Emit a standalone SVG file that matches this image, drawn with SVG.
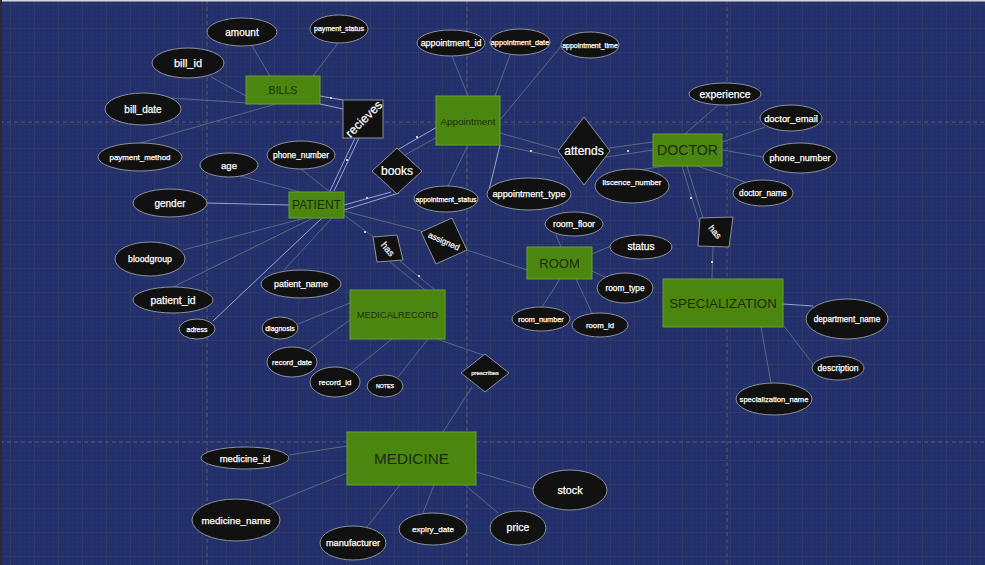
<svg xmlns="http://www.w3.org/2000/svg" width="985" height="565" viewBox="0 0 985 565">
<style>
.ent{fill:#4b870e;stroke:#67a032;stroke-width:1}
.et{fill:#1d2a12;font-family:"Liberation Sans",Arial,sans-serif;text-anchor:middle;dominant-baseline:central}
.rel{fill:#111;stroke:#8c929c;stroke-width:1}
.rt{fill:#fff;stroke:#fff;stroke-width:0.2;font-family:"Liberation Sans",Arial,sans-serif;text-anchor:middle;dominant-baseline:central}
.att{fill:#111;stroke:#8c929c;stroke-width:1}
.at{fill:#fff;stroke:#fff;stroke-width:0.25;font-family:"Liberation Sans",Arial,sans-serif;text-anchor:middle;dominant-baseline:central}
.la{stroke:#586a80;stroke-width:1;fill:none}
.lr{stroke:#9aa7cf;stroke-width:1;fill:none}
.dot{fill:#c8ccd8}
.dash{stroke:#555a70;stroke-width:1;stroke-dasharray:4 3}
</style>
<defs>
<pattern id="minor" width="4.8" height="4.8" patternUnits="userSpaceOnUse" x="0.4" y="4"><path d="M0 0H4.8M0 0V4.8" fill="none" stroke="#2b3874" stroke-width="0.6"/></pattern>
<pattern id="major" width="24" height="24" patternUnits="userSpaceOnUse" x="10" y="4"><path d="M0 0H24M0 0V24" fill="none" stroke="#3c4264" stroke-width="1"/></pattern>
</defs>
<g id="background">
<rect width="985" height="565" fill="#222f6b"/>
<rect width="985" height="565" fill="url(#minor)"/>
<rect width="985" height="565" fill="url(#major)"/>
<line class="dash" x1="207" y1="0" x2="207" y2="565"/>
<line class="dash" x1="467" y1="0" x2="467" y2="565"/>
<line class="dash" x1="727" y1="0" x2="727" y2="565"/>
<line class="dash" x1="0" y1="122" x2="985" y2="122"/>
<line class="dash" x1="0" y1="442" x2="985" y2="442"/>
<rect x="0" y="0" width="985" height="1.5" fill="#d8d8dc"/>
<rect x="0" y="0" width="2" height="565" fill="#2a2a30"/>
</g>
<g id="connectors">
<line class="la" x1="252" y1="46" x2="270" y2="76"/>
<line class="la" x1="338" y1="43" x2="313" y2="76"/>
<line class="la" x1="211" y1="77" x2="246" y2="96"/>
<line class="la" x1="172" y1="98" x2="262" y2="104"/>
<line class="la" x1="140" y1="143" x2="276" y2="104"/>
<line class="la" x1="452" y1="56" x2="468" y2="96"/>
<line class="la" x1="510" y1="55" x2="495" y2="96"/>
<line class="la" x1="562" y1="45" x2="500" y2="120"/>
<line class="la" x1="448" y1="186" x2="468" y2="145"/>
<line class="lr" x1="489" y1="190" x2="500" y2="145"/>
<line class="la" x1="718" y1="105" x2="685" y2="134"/>
<line class="la" x1="765" y1="127" x2="722" y2="142"/>
<line class="la" x1="763" y1="157" x2="722" y2="150"/>
<line class="la" x1="745" y1="182" x2="697" y2="166"/>
<line class="la" x1="664" y1="166" x2="640" y2="170"/>
<line class="la" x1="301" y1="169" x2="330" y2="192"/>
<line class="la" x1="240" y1="176" x2="300" y2="192"/>
<line class="lr" x1="207" y1="203" x2="289" y2="205"/>
<line class="la" x1="183" y1="250" x2="305" y2="218"/>
<line class="la" x1="173" y1="287" x2="313" y2="218"/>
<line class="lr" x1="213" y1="321" x2="322" y2="218"/>
<line class="la" x1="284" y1="270" x2="332" y2="218"/>
<line class="la" x1="556" y1="235" x2="561" y2="247"/>
<line class="la" x1="611" y1="246" x2="592" y2="254"/>
<line class="la" x1="607" y1="278" x2="592" y2="271"/>
<line class="la" x1="542" y1="307" x2="560" y2="279"/>
<line class="la" x1="592" y1="313" x2="576" y2="279"/>
<line class="lr" x1="783" y1="304" x2="813" y2="306"/>
<line class="la" x1="813" y1="364" x2="784" y2="326"/>
<line class="la" x1="771" y1="383" x2="761" y2="327"/>
<line class="la" x1="298" y1="324" x2="350" y2="303"/>
<line class="la" x1="308" y1="350" x2="350" y2="320"/>
<line class="la" x1="352" y1="371" x2="392" y2="339"/>
<line class="la" x1="398" y1="377" x2="428" y2="339"/>
<line class="la" x1="289" y1="455" x2="347" y2="446"/>
<line class="la" x1="268" y1="505" x2="347" y2="473"/>
<line class="la" x1="367" y1="527" x2="400" y2="485"/>
<line class="la" x1="423" y1="513" x2="434" y2="485"/>
<line class="la" x1="498" y1="513" x2="465" y2="485"/>
<line class="la" x1="534" y1="489" x2="476" y2="472"/>
<line class="lr" x1="320" y1="96" x2="343" y2="100"/>
<line class="lr" x1="320" y1="104" x2="343" y2="109"/>
<line class="lr" x1="330" y1="191" x2="355" y2="138"/>
<line class="lr" x1="334" y1="191" x2="359" y2="138"/>
<line class="lr" x1="437" y1="127" x2="399" y2="149"/>
<line class="la" x1="448" y1="131" x2="405" y2="155"/>
<line class="lr" x1="344" y1="205" x2="391" y2="192"/>
<line class="lr" x1="344" y1="210" x2="399" y2="193"/>
<line class="la" x1="500" y1="133" x2="560" y2="150"/>
<line class="la" x1="500" y1="145" x2="560" y2="158"/>
<line class="la" x1="609" y1="148" x2="653" y2="142"/>
<line class="la" x1="606" y1="157" x2="653" y2="150"/>
<line class="la" x1="344" y1="215" x2="375" y2="238"/>
<line class="la" x1="344" y1="211" x2="421" y2="231"/>
<line class="la" x1="390" y1="262" x2="425" y2="290"/>
<line class="la" x1="400" y1="261" x2="435" y2="290"/>
<line class="la" x1="467" y1="250" x2="527" y2="270"/>
<line class="la" x1="682" y1="166" x2="699" y2="222"/>
<line class="la" x1="687" y1="166" x2="703" y2="218"/>
<line class="la" x1="713" y1="247" x2="712" y2="279"/>
<line class="la" x1="437" y1="339" x2="483" y2="355"/>
<line class="la" x1="472" y1="387" x2="443" y2="432"/>
<rect class="dot" x="330" y="97" width="2" height="2"/>
<rect class="dot" x="346" y="159" width="2" height="2"/>
<rect class="dot" x="416" y="136" width="2" height="2"/>
<rect class="dot" x="366" y="197" width="2" height="2"/>
<rect class="dot" x="530" y="150" width="2" height="2"/>
<rect class="dot" x="627" y="150" width="2" height="2"/>
<rect class="dot" x="364" y="231" width="2" height="2" fill="#d66"/>
<rect class="dot" x="418" y="275" width="2" height="2"/>
<rect class="dot" x="690" y="197" width="2" height="2"/>
<rect class="dot" x="711" y="261" width="2" height="2"/>
</g>
<g id="BILLS"><rect class="ent" x="246" y="76" width="74" height="28"/><text class="et" x="283" y="90" font-size="10.6">BILLS</text></g>
<g id="Appointment"><rect class="ent" x="436" y="96" width="64" height="49"/><text class="et" x="468" y="121" font-size="9.8">Appointment</text></g>
<g id="DOCTOR"><rect class="ent" x="653" y="134" width="69" height="32"/><text class="et" x="687.5" y="150" font-size="14.2">DOCTOR</text></g>
<g id="PATIENT"><rect class="ent" x="289" y="192" width="55" height="26"/><text class="et" x="316.5" y="205" font-size="12">PATIENT</text></g>
<g id="ROOM"><rect class="ent" x="527" y="247" width="65" height="32"/><text class="et" x="559.5" y="263" font-size="13">ROOM</text></g>
<g id="SPECIALIZATION"><rect class="ent" x="663" y="279" width="120" height="48"/><text class="et" x="723" y="303" font-size="13.3">SPECIALIZATION</text></g>
<g id="MEDICALRECORD"><rect class="ent" x="350" y="290" width="95" height="49"/><text class="et" x="397.5" y="315" font-size="9.3">MEDICALRECORD</text></g>
<g id="MEDICINE"><rect class="ent" x="347" y="432" width="129" height="53"/><text class="et" x="411.5" y="458" font-size="15.3">MEDICINE</text></g>
<g id="recieves"><rect class="rel" x="343" y="100" width="40" height="38"/><text class="rt" x="364" y="119" font-size="12.4" transform="rotate(-45 364 119)">recieves</text></g>
<g id="books"><polygon class="rel" points="397,148 422,171 397,194 372,171"/><text class="rt" x="397" y="171" font-size="12">books</text></g>
<g id="attends"><polygon class="rel" points="584,117 610,151 584,185 558,151"/><text class="rt" x="584" y="151" font-size="12">attends</text></g>
<g id="has_patient_record"><polygon class="rel" points="373,237 397,235 403,260 377,262"/><text class="rt" x="388" y="249" font-size="9.5" transform="rotate(50 388 249)">has</text></g>
<g id="assigned"><polygon class="rel" points="452,218 467,250 436,264 421,232"/><text class="rt" x="444" y="241" font-size="8.4" transform="rotate(24 444 241)">assigned</text></g>
<g id="has_doctor_specialization"><polygon class="rel" points="700,218 733,217 729,247 698,246"/><text class="rt" x="715" y="232" font-size="9" transform="rotate(50 715 232)">has</text></g>
<g id="prescribes"><polygon class="rel" points="485,354 509,373 485,392 461,373"/><text class="rt" x="485" y="373" font-size="6">prescribes</text></g>
<g id="amount"><ellipse class="att" cx="242" cy="32" rx="35" ry="14"/><text class="at" x="242" y="32" font-size="10">amount</text></g>
<g id="payment_status"><ellipse class="att" cx="339" cy="29" rx="29" ry="14"/><text class="at" x="339" y="29" font-size="7.1">payment_status</text></g>
<g id="bill_id"><ellipse class="att" cx="188" cy="63" rx="36" ry="15"/><text class="at" x="188" y="63" font-size="11">bill_id</text></g>
<g id="bill_date"><ellipse class="att" cx="143" cy="109" rx="38" ry="16"/><text class="at" x="143" y="109" font-size="10">bill_date</text></g>
<g id="payment_method"><ellipse class="att" cx="140" cy="157" rx="42" ry="14"/><text class="at" x="140" y="157" font-size="7.9">payment_method</text></g>
<g id="appointment_id"><ellipse class="att" cx="451" cy="43" rx="34" ry="13"/><text class="at" x="451" y="43" font-size="8.9">appointment_id</text></g>
<g id="appointment_date"><ellipse class="att" cx="520" cy="42" rx="30" ry="13"/><text class="at" x="520" y="42" font-size="7.3">appointment_date</text></g>
<g id="appointment_time"><ellipse class="att" cx="590" cy="45" rx="29" ry="13"/><text class="at" x="590" y="45" font-size="7">appointment_time</text></g>
<g id="appointment_status"><ellipse class="att" cx="446" cy="199" rx="32" ry="13"/><text class="at" x="446" y="199" font-size="7">appointment_status</text></g>
<g id="appointment_type"><ellipse class="att" cx="529" cy="194" rx="42" ry="16"/><text class="at" x="529" y="194" font-size="9.2">appointment_type</text></g>
<g id="experience"><ellipse class="att" cx="725" cy="94" rx="36" ry="11"/><text class="at" x="725" y="94" font-size="10.4">experience</text></g>
<g id="doctor_email"><ellipse class="att" cx="791" cy="118" rx="31" ry="13"/><text class="at" x="791" y="118" font-size="9.4">doctor_email</text></g>
<g id="doctor_phone_number"><ellipse class="att" cx="800" cy="158" rx="37" ry="15"/><text class="at" x="800" y="158" font-size="9.1">phone_number</text></g>
<g id="doctor_name"><ellipse class="att" cx="763" cy="193" rx="30" ry="13"/><text class="at" x="763" y="193" font-size="8.2">doctor_name</text></g>
<g id="liscence_number"><ellipse class="att" cx="632" cy="186" rx="37" ry="17"/><text class="at" x="632" y="182" font-size="7.8">liscence_number</text></g>
<g id="patient_phone_number"><ellipse class="att" cx="301" cy="155" rx="34" ry="14"/><text class="at" x="301" y="155" font-size="8.3">phone_number</text></g>
<g id="age"><ellipse class="att" cx="229" cy="165" rx="29" ry="12"/><text class="at" x="229" y="165" font-size="9.6">age</text></g>
<g id="gender"><ellipse class="att" cx="170" cy="203" rx="37" ry="14"/><text class="at" x="170" y="203" font-size="10">gender</text></g>
<g id="bloodgroup"><ellipse class="att" cx="150" cy="259" rx="35" ry="17"/><text class="at" x="150" y="259" font-size="8.8">bloodgroup</text></g>
<g id="patient_id"><ellipse class="att" cx="173" cy="300" rx="40" ry="13"/><text class="at" x="173" y="300" font-size="10.4">patient_id</text></g>
<g id="adress"><ellipse class="att" cx="197" cy="329" rx="18" ry="10"/><text class="at" x="197" y="329" font-size="7">adress</text></g>
<g id="patient_name"><ellipse class="att" cx="301" cy="284" rx="40" ry="14"/><text class="at" x="301" y="284" font-size="8.9">patient_name</text></g>
<g id="room_floor"><ellipse class="att" cx="574" cy="224" rx="29" ry="12"/><text class="at" x="574" y="224" font-size="8.8">room_floor</text></g>
<g id="status"><ellipse class="att" cx="641" cy="247" rx="31" ry="12"/><text class="at" x="641" y="246" font-size="10.2">status</text></g>
<g id="room_type"><ellipse class="att" cx="625" cy="288" rx="28" ry="15"/><text class="at" x="625" y="288" font-size="8.3">room_type</text></g>
<g id="room_number"><ellipse class="att" cx="541" cy="319" rx="29" ry="12"/><text class="at" x="541" y="319" font-size="7.3">room_number</text></g>
<g id="room_id"><ellipse class="att" cx="600" cy="325" rx="28" ry="12"/><text class="at" x="600" y="325" font-size="7.8">room_id</text></g>
<g id="department_name"><ellipse class="att" cx="847" cy="319" rx="41" ry="20"/><text class="at" x="847" y="319" font-size="8.2">department_name</text></g>
<g id="description"><ellipse class="att" cx="838" cy="368" rx="26" ry="12"/><text class="at" x="838" y="368" font-size="8.5">description</text></g>
<g id="specialization_name"><ellipse class="att" cx="774" cy="399" rx="38" ry="16"/><text class="at" x="774" y="399" font-size="7.6">specialization_name</text></g>
<g id="diagnosis"><ellipse class="att" cx="280" cy="328" rx="18" ry="11"/><text class="at" x="280" y="328" font-size="7">diagnosis</text></g>
<g id="record_date"><ellipse class="att" cx="292" cy="362" rx="25" ry="15"/><text class="at" x="292" y="362" font-size="7.5">record_date</text></g>
<g id="record_id"><ellipse class="att" cx="335" cy="382" rx="25" ry="15"/><text class="at" x="335" y="382" font-size="7.8">record_id</text></g>
<g id="NOTES"><ellipse class="att" cx="385" cy="386" rx="18" ry="11"/><text class="at" x="385" y="386" font-size="5.3">NOTES</text></g>
<g id="medicine_id"><ellipse class="att" cx="245" cy="458" rx="44" ry="11"/><text class="at" x="245" y="458" font-size="9.5">medicine_id</text></g>
<g id="medicine_name"><ellipse class="att" cx="236" cy="520" rx="44" ry="21"/><text class="at" x="236" y="520" font-size="9.8">medicine_name</text></g>
<g id="manufacturer"><ellipse class="att" cx="353" cy="543" rx="33" ry="17"/><text class="at" x="353" y="543" font-size="9.2">manufacturer</text></g>
<g id="expiry_date"><ellipse class="att" cx="433" cy="529" rx="34" ry="16"/><text class="at" x="433" y="529" font-size="8.1">expiry_date</text></g>
<g id="price"><ellipse class="att" cx="518" cy="528" rx="28" ry="17"/><text class="at" x="518" y="527" font-size="10.5">price</text></g>
<g id="stock"><ellipse class="att" cx="570" cy="490" rx="37" ry="20"/><text class="at" x="570" y="490" font-size="10.8">stock</text></g>
</svg>
